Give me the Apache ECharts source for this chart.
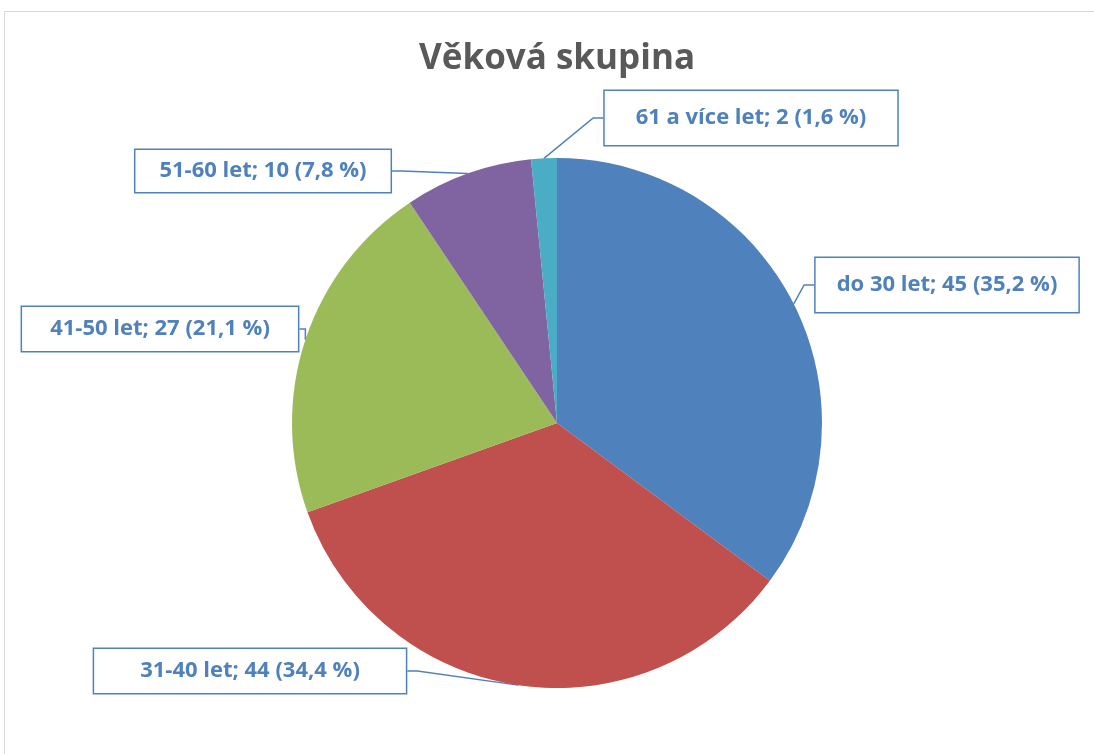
<!DOCTYPE html>
<html>
<head>
<meta charset="utf-8">
<script src="https://cdn.jsdelivr.net/npm/echarts@6/dist/echarts.min.js"></script>
<style>
  html,body{margin:0;padding:0;background:#fff;}
  #chart{width:1094px;height:754px;}
</style>
</head>
<body>
<div id="chart"></div>
<script>
var categories = ['do 30 let', '31-40 let', '41-50 let', '51-60 let', '61 a více let'];
var values = [45, 44, 27, 10, 2];
var percents = ['35,2', '34,4', '21,1', '7,8', '1,6'];
var colors = ['#4F81BD', '#C0504D', '#9BBB59', '#8064A2', '#4BACC6'];
// label box centres (px) and paddings
var labelPos = [[947, 285], [250, 671], [160, 329], [263, 171], [751, 118]];
var labelPad = [[16, 21], [11, 46], [11, 24], [10, 24], [16, 31]];

var chart = echarts.init(document.getElementById('chart'));
var option = {
    animation: false,
    title: {
        text: 'Věková skupina',
        left: 414,
        top: 37,
        textStyle: {
            fontFamily: 'Open Sans',
            fontSize: 35,
            fontWeight: 'bold',
            color: '#595959'
        }
    },
    graphic: [{
        type: 'rect',
        shape: {x: 4.5, y: 11.5, width: 1200, height: 800},
        style: {fill: null, stroke: '#d9d9d9', lineWidth: 1},
        silent: true
    }],
    series: [{
        type: 'pie',
        center: [557, 423],
        radius: 265,
        startAngle: 90,
        clockwise: true,
        data: categories.map(function (c, i) {
            return {
                name: c,
                value: values[i],
                itemStyle: {color: colors[i]},
                label: {padding: labelPad[i]}
            };
        }),
        itemStyle: {borderColor: '#fff', borderWidth: 0},
        label: {
            show: true,
            formatter: function (p) {
                return p.name + '; ' + p.value + ' (' + percents[p.dataIndex] + ' %)';
            },
            fontFamily: 'Open Sans',
            fontWeight: 'bold',
            fontSize: 22,
            color: '#4F81BD',
            backgroundColor: '#fff',
            borderColor: '#4F81BD',
            borderWidth: 1.5
        },
        labelLine: {
            show: true,
            length: 10,
            length2: 10,
            lineStyle: {color: '#4F81BD', width: 1.5}
        },
        labelLayout: function (params) {
            var p = labelPos[params.dataIndex];
            return {x: p[0], y: p[1], align: 'center', verticalAlign: 'middle'};
        }
    }]
};
chart.setOption(option);
</script>
</body>
</html>
